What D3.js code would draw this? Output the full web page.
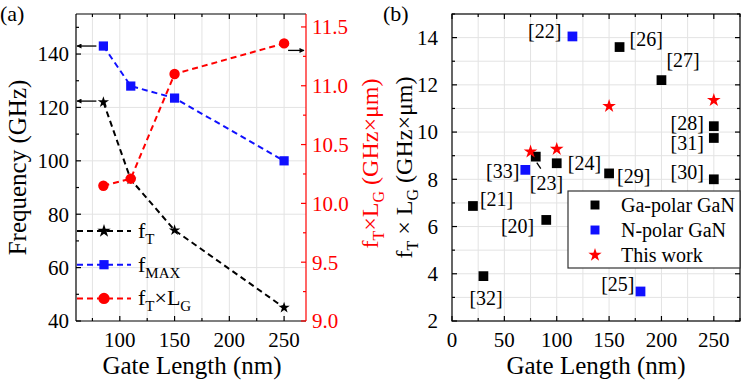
<!DOCTYPE html>
<html>
<head>
<meta charset="utf-8">
<script src="https://cdn.jsdelivr.net/npm/d3@7"></script>
<style>
  body { margin: 0; background: #fff; }
  svg, svg text { font-family: "Liberation Serif", "Times New Roman", "DejaVu Serif", serif; }
</style>
</head>
<body>
<div class="chart"></div>
<script>
// panel (a) data
const gateLenA = [85, 110, 150, 250];
const fT = [122, 93, 74, 45];
const fMAX = [143, 128, 123.5, 100];
const fTLG = [10.15, 10.21, 11.1, 11.36];

// panel (b) data
const gaRefs = ["[20]", "[21]", "[23]", "[24]", "[26]", "[27]", "[28]", "[29]", "[30]", "[31]", "[32]"];
const gaLen = [90, 20, 80, 100, 160, 200, 250, 150, 250, 250, 30];
const gaVal = [6.28, 6.87, 8.96, 8.68, 13.6, 12.2, 10.25, 8.25, 8.0, 9.75, 3.9];
const nRefs = ["[22]", "[33]", "[25]"];
const nLen = [115, 70, 180];
const nVal = [14.05, 8.4, 3.25];
const workLen = [75, 100, 150, 250];
const workVal = [9.17, 9.28, 11.1, 11.35];

// where each reference label sits relative to its point
const labelPos = {
  "[20]": [-12, 6, "end"], "[21]": [7, -7, "start"], "[23]": [-6, 26, "start"],
  "[24]": [11, 0, "start"], "[26]": [10, -8, "start"], "[27]": [5, -20, "start"],
  "[28]": [-10, -3, "end"], "[29]": [8, 3, "start"], "[30]": [-10, -7, "end"],
  "[31]": [-10, 5, "end"], "[32]": [-14, 22, "start"], "[22]": [-11, -5, "end"],
  "[33]": [-6, 1, "end"], "[25]": [-6, -7, "end"]
};

const W = 742, H = 380;
const blue = "#1010ff", red = "#ff0000";
const grid = "#e3e3e3";
const FONT = "'Liberation Serif', 'Times New Roman', 'DejaVu Serif', serif";

const svg = d3.select(".chart").append("svg")
  .attr("width", W).attr("height", H)
  .attr("font-family", FONT);

const sym = (type, size) => d3.symbol().type(type).size(size)();

function ticksIn(g, scale, values, orient, len, color) {
  values.forEach(v => {
    const p = scale(v);
    let line;
    if (orient === "bottom") line = [p, 0, p, -len];
    if (orient === "top") line = [p, 0, p, len];
    if (orient === "left") line = [0, p, len, p];
    if (orient === "right") line = [0, p, -len, p];
    g.append("line")
      .attr("x1", line[0]).attr("y1", line[1]).attr("x2", line[2]).attr("y2", line[3])
      .attr("stroke", color).attr("stroke-width", 1.2);
  });
}

// ---------- panel (a) ----------
const A = { l: 76, r: 306, t: 14, b: 321 };
const xA = d3.scaleLinear().domain([60, 270]).range([A.l, A.r]);
const yA = d3.scaleLinear().domain([40, 155]).range([A.b, A.t]);
const yA2 = d3.scaleLinear().domain([9.0, 11.61]).range([A.b, A.t]);

const ga = svg.append("g");

ga.selectAll(".vg").data(d3.range(75, 251, 25)).join("line")
  .attr("x1", d => xA(d)).attr("x2", d => xA(d))
  .attr("y1", A.t).attr("y2", A.b).attr("stroke", grid);
ga.selectAll(".hg").data(d3.range(60, 141, 20)).join("line")
  .attr("y1", d => yA(d)).attr("y2", d => yA(d))
  .attr("x1", A.l).attr("x2", A.r).attr("stroke", grid);

// frame
ga.append("line").attr("x1", A.l).attr("x2", A.r).attr("y1", A.t).attr("y2", A.t).attr("stroke", "#000").attr("stroke-width", 1.2);
ga.append("line").attr("x1", A.l).attr("x2", A.r).attr("y1", A.b).attr("y2", A.b).attr("stroke", "#000").attr("stroke-width", 1.2);
ga.append("line").attr("x1", A.l).attr("x2", A.l).attr("y1", A.t).attr("y2", A.b).attr("stroke", "#000").attr("stroke-width", 1.2);
ga.append("line").attr("x1", A.r).attr("x2", A.r).attr("y1", A.t).attr("y2", A.b).attr("stroke", red).attr("stroke-width", 1.2);

const xMajA = [100, 150, 200, 250], xMinA = [75, 125, 175, 225];
ticksIn(ga.append("g").attr("transform", `translate(0,${A.b})`), xA, xMajA, "bottom", 5, "#000");
ticksIn(ga.append("g").attr("transform", `translate(0,${A.b})`), xA, xMinA, "bottom", 3, "#000");
ticksIn(ga.append("g").attr("transform", `translate(0,${A.t})`), xA, xMajA, "top", 5, "#000");
ticksIn(ga.append("g").attr("transform", `translate(0,${A.t})`), xA, xMinA, "top", 3, "#000");
ticksIn(ga.append("g").attr("transform", `translate(${A.l},0)`), yA, d3.range(40, 141, 20), "left", 5, "#000");
ticksIn(ga.append("g").attr("transform", `translate(${A.l},0)`), yA, d3.range(50, 151, 20), "left", 3, "#000");
ticksIn(ga.append("g").attr("transform", `translate(${A.r},0)`), yA2, [9.0, 9.5, 10.0, 10.5, 11.0, 11.5], "right", 5, red);
ticksIn(ga.append("g").attr("transform", `translate(${A.r},0)`), yA2, [9.25, 9.75, 10.25, 10.75, 11.25], "right", 3, red);

ga.selectAll(".xl").data(xMajA).join("text")
  .attr("x", d => xA(d)).attr("y", 347).attr("text-anchor", "middle")
  .attr("font-size", 21).text(d => d);
ga.selectAll(".yl").data(d3.range(40, 141, 20)).join("text")
  .attr("x", A.l - 7).attr("y", d => yA(d)).attr("dy", "0.35em").attr("text-anchor", "end")
  .attr("font-size", 21).text(d => d);
ga.selectAll(".yl2").data([9.0, 9.5, 10.0, 10.5, 11.0, 11.5]).join("text")
  .attr("x", A.r + 6).attr("y", d => yA2(d)).attr("dy", "0.35em")
  .attr("font-size", 21).attr("fill", red).text(d => d.toFixed(1));

ga.append("text").attr("x", (A.l + A.r) / 2 + 1).attr("y", 374).attr("text-anchor", "middle")
  .attr("font-size", 25).text("Gate Length (nm)");
ga.append("text").attr("transform", `translate(26,${(A.t + A.b) / 2}) rotate(-90)`)
  .attr("text-anchor", "middle").attr("font-size", 25).text("Frequency (GHz)");

const rt = ga.append("text").attr("transform", `translate(378,${(A.t + A.b) / 2 - 4}) rotate(-90)`)
  .attr("text-anchor", "middle").attr("font-size", 24).attr("fill", red);
rt.append("tspan").text("f");
rt.append("tspan").attr("dy", 6).attr("font-size", 16).text("T");
rt.append("tspan").attr("dy", -6).text("×L");
rt.append("tspan").attr("dy", 6).attr("font-size", 16).text("G");
rt.append("tspan").attr("dy", -6).text(" (GHz×μm)");

ga.append("text").attr("x", 0).attr("y", 21).attr("font-size", 22).text("(a)");

const lineA = (ys, yScale) => d3.line().x((d, i) => xA(gateLenA[i])).y(d => yScale(d))(ys);

ga.append("path").attr("d", lineA(fT, yA)).attr("fill", "none")
  .attr("stroke", "#000").attr("stroke-width", 2).attr("stroke-dasharray", "6,4");
ga.append("path").attr("d", lineA(fMAX, yA)).attr("fill", "none")
  .attr("stroke", blue).attr("stroke-width", 2).attr("stroke-dasharray", "6,4");
ga.append("path").attr("d", lineA(fTLG, yA2)).attr("fill", "none")
  .attr("stroke", red).attr("stroke-width", 2).attr("stroke-dasharray", "6,4");

ga.selectAll(".ft").data(fT).join("path")
  .attr("transform", (d, i) => `translate(${xA(gateLenA[i])},${yA(d)})`)
  .attr("d", sym(d3.symbolStar, 40)).attr("fill", "#000");
ga.selectAll(".fm").data(fMAX).join("path")
  .attr("transform", (d, i) => `translate(${xA(gateLenA[i])},${yA(d)})`)
  .attr("d", sym(d3.symbolSquare, 85)).attr("fill", blue);
ga.selectAll(".fl").data(fTLG).join("path")
  .attr("transform", (d, i) => `translate(${xA(gateLenA[i])},${yA2(d)})`)
  .attr("d", sym(d3.symbolCircle, 85)).attr("fill", red);

// arrows pointing to the axis each series belongs to
svg.append("defs").append("marker").attr("id", "ah")
  .attr("viewBox", "0 0 10 10").attr("refX", 9).attr("refY", 5)
  .attr("markerWidth", 8).attr("markerHeight", 5).attr("orient", "auto")
  .attr("markerUnits", "userSpaceOnUse")
  .append("path").attr("d", "M0,0L10,5L0,10Z").attr("fill", "#000");
const arr = (x1, y1, x2, y2) => ga.append("line")
  .attr("x1", x1).attr("y1", y1).attr("x2", x2).attr("y2", y2)
  .attr("stroke", "#000").attr("stroke-width", 1.3).attr("marker-end", "url(#ah)");
arr(xA(gateLenA[0]) - 7, yA(fMAX[0]), A.l + 1, yA(fMAX[0]));
arr(xA(gateLenA[0]) - 7, yA(fT[0]) - 1, A.l + 1, yA(fT[0]) - 1);
arr(xA(gateLenA[3]) + 4, yA2(fTLG[3]) + 7, A.r - 2, yA2(fTLG[3]) + 7);

// legend (a)
const legA = [
  { c: "#000", s: d3.symbolStar, z: 55, t: ["f", "T", ""] },
  { c: blue, s: d3.symbolSquare, z: 85, t: ["f", "MAX", ""] },
  { c: red, s: d3.symbolCircle, z: 100, t: ["f", "T", "×L", "G"] }
];
legA.forEach((e, i) => {
  const y = 231 + i * 33.7;
  ga.append("line").attr("x1", A.l + 1).attr("x2", 131).attr("y1", y).attr("y2", y)
    .attr("stroke", e.c).attr("stroke-width", 2).attr("stroke-dasharray", "6,4");
  ga.append("path").attr("transform", `translate(104,${y})`).attr("d", sym(e.s, e.z)).attr("fill", e.c);
  const t = ga.append("text").attr("x", 138).attr("y", y + 7).attr("font-size", 22);
  t.append("tspan").text(e.t[0]);
  t.append("tspan").attr("dy", 6).attr("font-size", 15).text(e.t[1]);
  if (e.t[3]) {
    t.append("tspan").attr("dy", -6).text(e.t[2]);
    t.append("tspan").attr("dy", 6).attr("font-size", 15).text(e.t[3]);
  }
});

// ---------- panel (b) ----------
const B = { l: 452, r: 740, t: 14, b: 321 };
const xB = d3.scaleLinear().domain([0, 275]).range([B.l, B.r]);
const yB = d3.scaleLinear().domain([2, 15]).range([B.b, B.t]);

const gb = svg.append("g");
gb.selectAll(".vg").data(d3.range(25, 251, 25)).join("line")
  .attr("x1", d => xB(d)).attr("x2", d => xB(d))
  .attr("y1", B.t).attr("y2", B.b).attr("stroke", grid);
gb.selectAll(".hg").data(d3.range(3, 15, 1)).join("line")
  .attr("y1", d => yB(d)).attr("y2", d => yB(d))
  .attr("x1", B.l).attr("x2", B.r).attr("stroke", grid);
gb.append("rect").attr("x", B.l).attr("y", B.t).attr("width", B.r - B.l).attr("height", B.b - B.t)
  .attr("fill", "none").attr("stroke", "#000").attr("stroke-width", 1.2);

const xMajB = d3.range(0, 251, 50), xMinB = d3.range(25, 276, 50);
const yMajB = d3.range(2, 15, 2), yMinB = d3.range(3, 16, 2);
ticksIn(gb.append("g").attr("transform", `translate(0,${B.b})`), xB, xMajB, "bottom", 5, "#000");
ticksIn(gb.append("g").attr("transform", `translate(0,${B.b})`), xB, xMinB, "bottom", 3, "#000");
ticksIn(gb.append("g").attr("transform", `translate(0,${B.t})`), xB, xMajB, "top", 5, "#000");
ticksIn(gb.append("g").attr("transform", `translate(0,${B.t})`), xB, xMinB, "top", 3, "#000");
ticksIn(gb.append("g").attr("transform", `translate(${B.l},0)`), yB, yMajB, "left", 5, "#000");
ticksIn(gb.append("g").attr("transform", `translate(${B.l},0)`), yB, yMinB, "left", 3, "#000");
ticksIn(gb.append("g").attr("transform", `translate(${B.r},0)`), yB, yMajB, "right", 5, "#000");
ticksIn(gb.append("g").attr("transform", `translate(${B.r},0)`), yB, yMinB, "right", 3, "#000");

gb.selectAll(".xl").data(xMajB).join("text")
  .attr("x", d => xB(d)).attr("y", 347).attr("text-anchor", "middle")
  .attr("font-size", 21).text(d => d);
gb.selectAll(".yl").data(yMajB).join("text")
  .attr("x", 438).attr("y", d => yB(d)).attr("dy", "0.35em").attr("text-anchor", "end")
  .attr("font-size", 21).text(d => d);
gb.append("text").attr("x", 596).attr("y", 374).attr("text-anchor", "middle")
  .attr("font-size", 25).text("Gate Length (nm)");

const bt = gb.append("text").attr("transform", `translate(412,${(B.t + B.b) / 2}) rotate(-90)`)
  .attr("text-anchor", "middle").attr("font-size", 24);
bt.append("tspan").text("f");
bt.append("tspan").attr("dy", 6).attr("font-size", 16).text("T");
bt.append("tspan").attr("dy", -6).text(" × L");
bt.append("tspan").attr("dy", 6).attr("font-size", 16).text("G");
bt.append("tspan").attr("dy", -6).text(" (GHz×μm)");

gb.append("text").attr("x", 383).attr("y", 21).attr("font-size", 22).text("(b)");

// small pointer from [23] label to its point
const i23 = gaRefs.indexOf("[23]");
gb.append("line")
  .attr("x1", xB(gaLen[i23]) + 1).attr("y1", yB(gaVal[i23]) + 6)
  .attr("x2", xB(gaLen[i23]) + 5).attr("y2", yB(gaVal[i23]) + 12)
  .attr("stroke", "#000").attr("stroke-width", 1.3);

gb.selectAll(".ga").data(gaVal).join("path")
  .attr("transform", (d, i) => `translate(${xB(gaLen[i])},${yB(d)})`)
  .attr("d", sym(d3.symbolSquare, 95)).attr("fill", "#000");
gb.selectAll(".np").data(nVal).join("path")
  .attr("transform", (d, i) => `translate(${xB(nLen[i])},${yB(d)})`)
  .attr("d", sym(d3.symbolSquare, 95)).attr("fill", blue);
gb.selectAll(".tw").data(workVal).join("path")
  .attr("transform", (d, i) => `translate(${xB(workLen[i])},${yB(d)})`)
  .attr("d", sym(d3.symbolStar, 58)).attr("fill", red);

const refLabels = gaRefs.map((r, i) => ({ r, x: gaLen[i], y: gaVal[i] }))
  .concat(nRefs.map((r, i) => ({ r, x: nLen[i], y: nVal[i] })));
gb.selectAll(".rl").data(refLabels).join("text")
  .attr("x", d => xB(d.x) + labelPos[d.r][0])
  .attr("y", d => yB(d.y) + labelPos[d.r][1])
  .attr("dy", "0.35em").attr("text-anchor", d => labelPos[d.r][2])
  .attr("font-size", 20).text(d => d.r);

// legend (b)
const legB = gb.append("g");
legB.append("rect").attr("x", 568).attr("y", 191).attr("width", 172).attr("height", 77)
  .attr("fill", "#fff").attr("stroke", "#333").attr("stroke-width", 1.2);
const legItems = [
  { c: "#000", s: d3.symbolSquare, z: 80, t: "Ga-polar GaN" },
  { c: blue, s: d3.symbolSquare, z: 80, t: "N-polar GaN" },
  { c: red, s: d3.symbolStar, z: 55, t: "This work" }
];
legItems.forEach((e, i) => {
  const y = 205 + i * 25;
  legB.append("path").attr("transform", `translate(595,${y})`).attr("d", sym(e.s, e.z)).attr("fill", e.c);
  legB.append("text").attr("x", 621).attr("y", y).attr("dy", "0.35em").attr("font-size", 20).text(e.t);
});
</script>
</body>
</html>
